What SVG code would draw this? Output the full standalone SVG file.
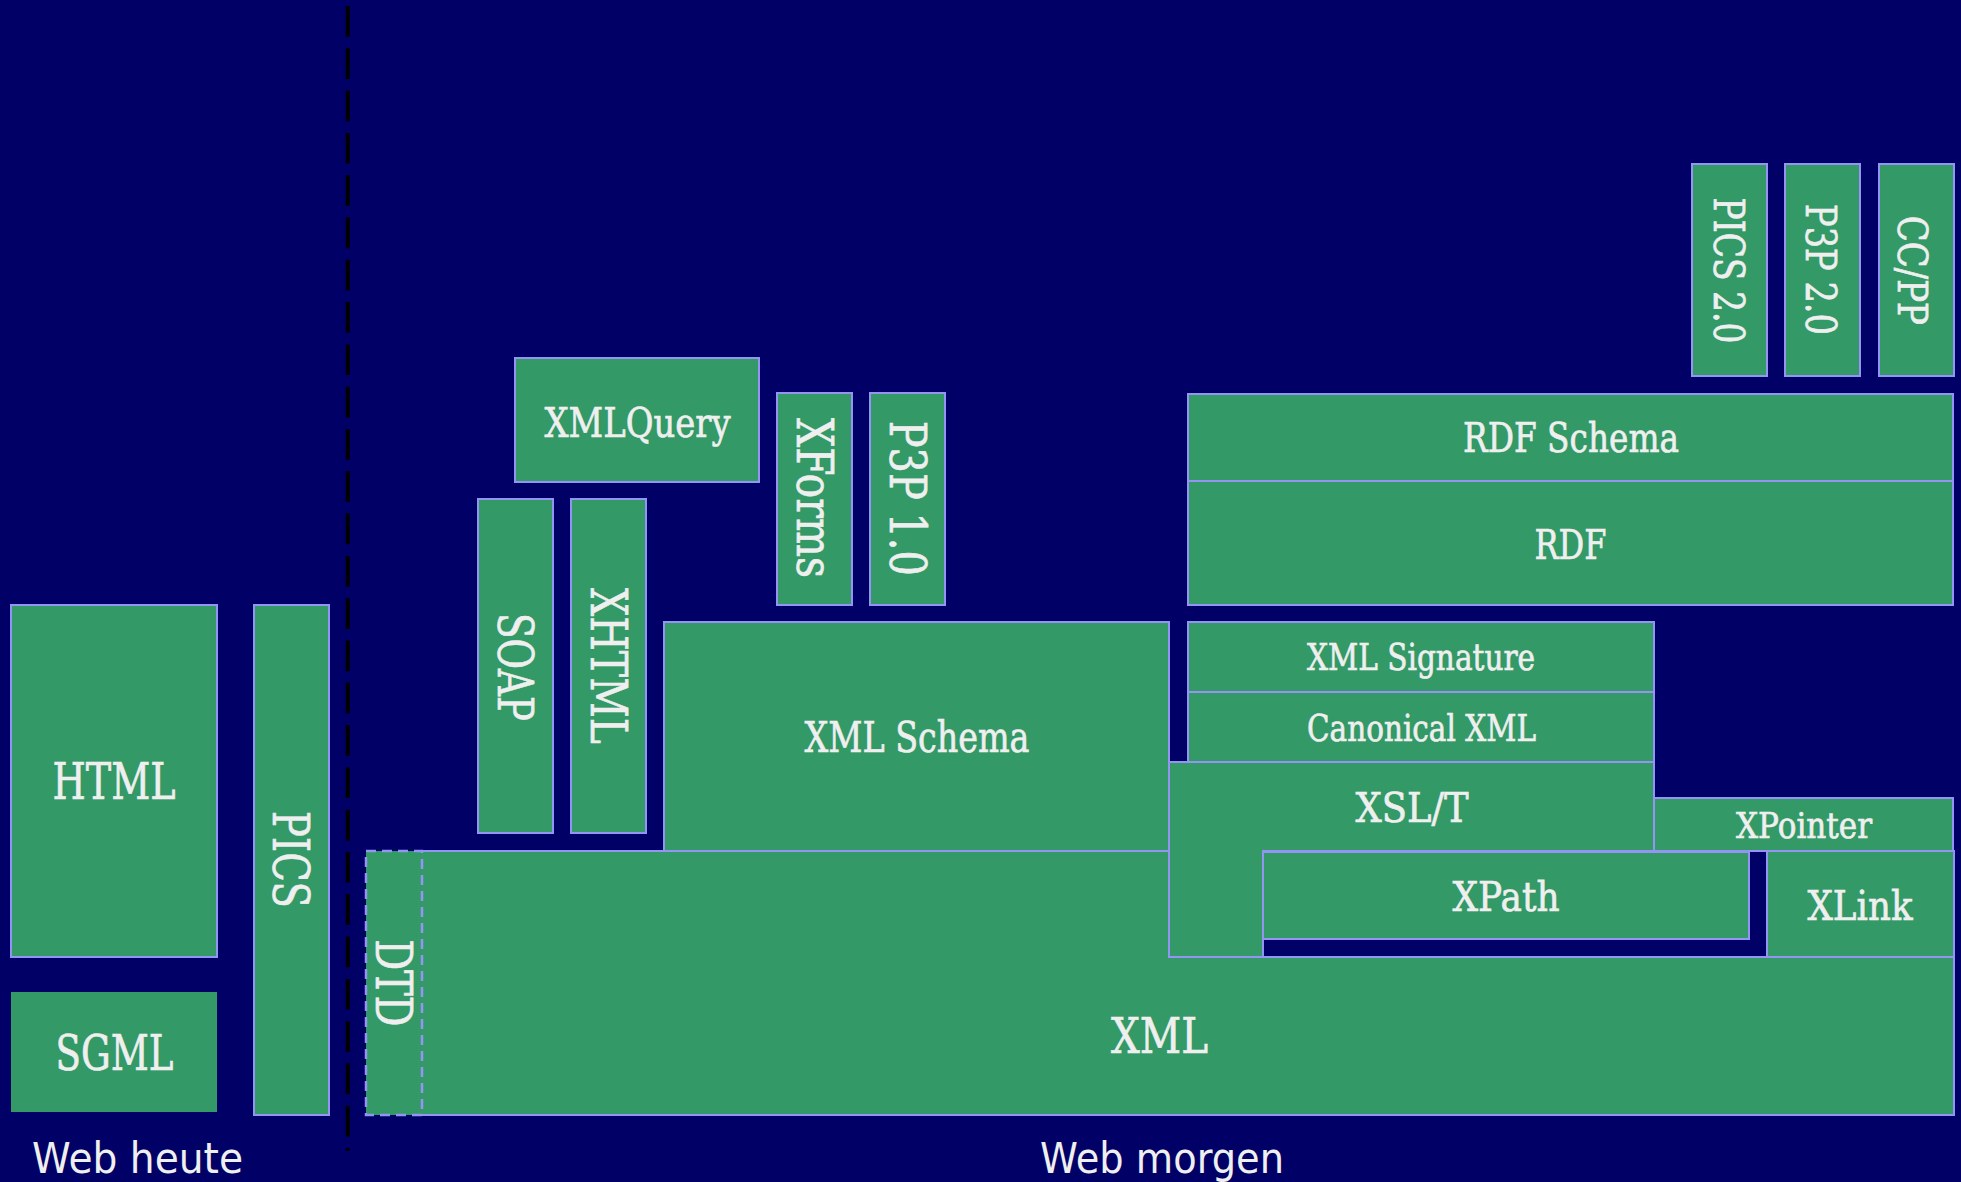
<svg xmlns="http://www.w3.org/2000/svg" width="1961" height="1182" viewBox="0 0 1961 1182">
  <style>
    .box { fill: #339966; stroke: #9494f4; stroke-width: 2; }
    .plain { fill: #339966; stroke: none; }
    .dash { fill: #339966; stroke: #9494f4; stroke-width: 2.5; stroke-dasharray: 10 6; }
    .lbl { font-family: "DejaVu Serif", "Liberation Serif", serif; fill: #efefef; stroke: #efefef; stroke-width: 0.7; text-anchor: middle; }
    .cap { font-family: "DejaVu Sans", "Liberation Sans", sans-serif; fill: #efefef; font-size: 42.5px; }
  </style>
  <rect x="0" y="0" width="1961" height="1182" fill="#000066"/>

  <g id="connectors">
    <line x1="347.7" y1="6" x2="347.7" y2="1150.7" stroke="#000000" stroke-width="4" stroke-dasharray="30.7 11.6"/>
  </g>

  <g id="node-xml">
    <polygon class="plain" points="366,851 1169,851 1169,957 1954,957 1954,1115 366,1115"/>
    <path d="M421,851 H1169 V957 H1954 V1115 H421" fill="none" stroke="#9494f4" stroke-width="2"/>
    <text class="lbl" x="1159.5" y="1053" font-size="48" textLength="97" lengthAdjust="spacingAndGlyphs">XML</text>
  </g>
  <g id="node-dtd">
    <rect class="dash" x="366" y="851" width="56" height="264"/>
    <text class="lbl" transform="translate(376,983) rotate(90)" font-size="50" textLength="87" lengthAdjust="spacingAndGlyphs">DTD</text>
  </g>

  <g id="node-html">
    <rect class="box" x="11" y="605" width="206" height="352"/>
    <text class="lbl" x="114" y="799" font-size="50" textLength="123" lengthAdjust="spacingAndGlyphs">HTML</text>
  </g>
  <g id="node-sgml">
    <rect class="plain" x="11" y="992" width="206" height="120"/>
    <text class="lbl" x="114.5" y="1069.5" font-size="49" textLength="118" lengthAdjust="spacingAndGlyphs">SGML</text>
  </g>
  <g id="node-pics">
    <rect class="box" x="254" y="605" width="75" height="510"/>
    <text class="lbl" transform="translate(273,859.5) rotate(90)" font-size="50" textLength="97" lengthAdjust="spacingAndGlyphs">PICS</text>
  </g>

  <g id="node-soap">
    <rect class="box" x="478" y="499" width="75" height="334"/>
    <text class="lbl" transform="translate(498,667) rotate(90)" font-size="49" textLength="108" lengthAdjust="spacingAndGlyphs">SOAP</text>
  </g>
  <g id="node-xhtml">
    <rect class="box" x="571" y="499" width="75" height="334"/>
    <text class="lbl" transform="translate(591,666) rotate(90)" font-size="50" textLength="156" lengthAdjust="spacingAndGlyphs">XHTML</text>
  </g>
  <g id="node-xmlquery">
    <rect class="box" x="515" y="358" width="244" height="124"/>
    <text class="lbl" x="637.5" y="436.7" font-size="41.5" textLength="186" lengthAdjust="spacingAndGlyphs">XMLQuery</text>
  </g>
  <g id="node-xforms">
    <rect class="box" x="777" y="393" width="75" height="212"/>
    <text class="lbl" transform="translate(797,498) rotate(90)" font-size="50" textLength="160" lengthAdjust="spacingAndGlyphs">XForms</text>
  </g>
  <g id="node-p3p10">
    <rect class="box" x="870" y="393" width="75" height="212"/>
    <text class="lbl" transform="translate(889.6,498.3) rotate(90)" font-size="50" textLength="155" lengthAdjust="spacingAndGlyphs">P3P 1.0</text>
  </g>
  <g id="node-xmlschema">
    <rect class="box" x="664" y="622" width="505" height="229"/>
    <text class="lbl" x="917" y="751.7" font-size="42" textLength="225" lengthAdjust="spacingAndGlyphs">XML Schema</text>
  </g>

  <g id="node-rdfschema">
    <rect class="box" x="1188" y="394" width="765" height="87"/>
    <text class="lbl" x="1571" y="452" font-size="41" textLength="216" lengthAdjust="spacingAndGlyphs">RDF Schema</text>
  </g>
  <g id="node-rdf">
    <rect class="box" x="1188" y="481" width="765" height="124"/>
    <text class="lbl" x="1570.5" y="558.7" font-size="41" textLength="72" lengthAdjust="spacingAndGlyphs">RDF</text>
  </g>
  <g id="node-xmlsignature">
    <rect class="box" x="1188" y="622" width="466" height="70"/>
    <text class="lbl" x="1421" y="670.4" font-size="36.5" textLength="228" lengthAdjust="spacingAndGlyphs">XML Signature</text>
  </g>
  <g id="node-canonicalxml">
    <rect class="box" x="1188" y="692" width="466" height="70"/>
    <text class="lbl" x="1421.5" y="740.7" font-size="36.5" textLength="229" lengthAdjust="spacingAndGlyphs">Canonical XML</text>
  </g>
  <g id="node-xslt">
    <polygon class="box" points="1169,762 1654,762 1654,851 1263,851 1263,957 1169,957"/>
    <text class="lbl" x="1412" y="821.5" font-size="41" textLength="113" lengthAdjust="spacingAndGlyphs">XSL/T</text>
  </g>
  <g id="node-xpointer">
    <rect class="box" x="1654" y="798" width="299" height="53"/>
    <text class="lbl" x="1804" y="838" font-size="34.5" textLength="136" lengthAdjust="spacingAndGlyphs">XPointer</text>
  </g>
  <g id="node-xpath">
    <rect class="box" x="1263" y="852" width="486" height="87"/>
    <text class="lbl" x="1506" y="911" font-size="41" textLength="107" lengthAdjust="spacingAndGlyphs">XPath</text>
  </g>
  <g id="node-xlink">
    <rect class="box" x="1767" y="851" width="187" height="106"/>
    <text class="lbl" x="1860" y="919.5" font-size="41" textLength="105" lengthAdjust="spacingAndGlyphs">XLink</text>
  </g>

  <g id="node-pics20">
    <rect class="box" x="1692" y="164" width="75" height="212"/>
    <text class="lbl" transform="translate(1713.5,270.5) rotate(90)" font-size="42" textLength="146" lengthAdjust="spacingAndGlyphs">PICS 2.0</text>
  </g>
  <g id="node-p3p20">
    <rect class="box" x="1785" y="164" width="75" height="212"/>
    <text class="lbl" transform="translate(1806,269.5) rotate(90)" font-size="42" textLength="131" lengthAdjust="spacingAndGlyphs">P3P 2.0</text>
  </g>
  <g id="node-ccpp">
    <rect class="box" x="1879" y="164" width="75" height="212"/>
    <text class="lbl" transform="translate(1898,270.3) rotate(90)" font-size="41" textLength="109" lengthAdjust="spacingAndGlyphs">CC/PP</text>
  </g>

  <g id="captions">
    <text class="cap" x="32" y="1172.7" textLength="211" lengthAdjust="spacingAndGlyphs">Web heute</text>
    <text class="cap" x="1040" y="1172.7" textLength="244" lengthAdjust="spacingAndGlyphs">Web morgen</text>
  </g>
</svg>
